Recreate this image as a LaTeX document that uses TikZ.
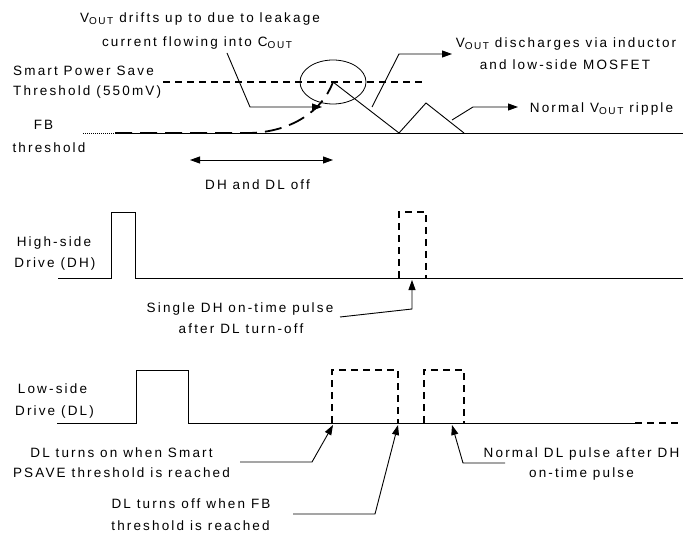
\documentclass[tikz,border=0pt]{standalone}
\usepackage{fontspec}
\setmainfont[LetterSpace=16]{Liberation Sans}
\usetikzlibrary{arrows.meta}
\newcommand\subtxt[1]{\raisebox{-0.25ex}{\fontsize{10}{10}\selectfont #1}}
\begin{document}
\begin{tikzpicture}[x=1pt,y=-1pt,
  lbl/.style={inner sep=0pt,font=\fontsize{13.5}{21}\selectfont},
  sig/.style={line width=0.9pt},
  dsig/.style={line width=1.7pt,dash pattern=on 7pt off 5pt},
  lsig/.style={line width=1.8pt,dash pattern=on 17pt off 8pt},
  conn/.style={line width=0.9pt,-{Triangle[length=10pt,width=7pt]}},
  dconn/.style={line width=0.9pt,{Triangle[length=10pt,width=7pt]}-{Triangle[length=10pt,width=7pt]}}]
\useasboundingbox (0,0) rectangle (685,537);
% ---- texts
\node[lbl,anchor=base] (t1a) at (200,23) {V\subtxt{OUT} drifts up to due to leakage};
\node[lbl,anchor=base] (t1b) at (197,47) {current flowing into C\subtxt{OUT}};
\node[lbl,anchor=base west] (t2a) at (13,76) {Smart Power Save};
\node[lbl,anchor=base west] (t2b) at (13,96) {Threshold (550mV)};
\node[lbl,anchor=base] (t3a) at (43.5,130) {FB};
\node[lbl,anchor=base] (t3b) at (49,153) {threshold};
\node[lbl,anchor=base] (t4a) at (566,48) {V\subtxt{OUT} discharges via inductor};
\node[lbl,anchor=base] (t4b) at (565,70) {and low-side MOSFET};
\node[lbl,anchor=base] (t5) at (601.5,113) {Normal V\subtxt{OUT} ripple};
\node[lbl,anchor=base] (t6) at (257.5,190) {DH and DL off};
\node[lbl,anchor=base] (t7a) at (54,247) {High-side};
\node[lbl,anchor=base] (t7b) at (55,268) {Drive (DH)};
\node[lbl,anchor=base] (t8a) at (240,312) {Single DH on-time pulse};
\node[lbl,anchor=base] (t8b) at (241,333) {after DL turn-off};
\node[lbl,anchor=base] (t9a) at (52.5,393) {Low-side};
\node[lbl,anchor=base] (t9b) at (54.5,415) {Drive (DL)};
\node[lbl,anchor=base] (t10a) at (121.5,457) {DL turns on when Smart};
\node[lbl,anchor=base] (t10b) at (121.5,477) {PSAVE threshold is reached};
\node[lbl,anchor=base] (t11a) at (191,508) {DL turns off when FB};
\node[lbl,anchor=base] (t11b) at (190.5,530) {threshold is reached};
\node[lbl,anchor=base] (t12a) at (581.5,457) {Normal DL pulse after DH};
\node[lbl,anchor=base] (t12b) at (581.5,477) {on-time pulse};
% ---- coordinates
\coordinate (peak) at (333,82);
\coordinate (c1s) at (227,53);   \coordinate (c1t) at (322,107);
\coordinate (c2s) at (372,107);  \coordinate (c2t) at (452,54);
\coordinate (c3s) at (452,120);  \coordinate (c3t) at (518,107);
\coordinate (dal) at (190,160);  \coordinate (dar) at (333,160);
\coordinate (c4s) at (340,317);  \coordinate (c4t) at (412,280);
\coordinate (c5s) at (240,462);  \coordinate (c5t) at (333,425);
\coordinate (c6s) at (293,514);  \coordinate (c6t) at (398,425);
\coordinate (c7s) at (505,463);  \coordinate (c7t) at (452,425);
% ---- top waveform
\draw[dsig] (163,82) -- (423,82);
\draw[line width=0.8pt] (peak) ellipse [x radius=33pt, y radius=22pt];
\draw[line width=0.6pt,dash pattern=on 1pt off 1pt] (83,133) -- (115,133);
\draw[line width=0.6pt] (115,133) -- (683,133);
\draw[lsig] (115,133) -- (250,133) .. controls (290,132) and (322,112) .. (peak);
\draw[sig] (peak) -- (399,133) -- (426,103) -- (464,133);
\draw[conn] (c1s) -- (250,107) -- (c1t);
\draw[conn] (c2s) -- (399,54) -- (c2t);
\draw[conn] (c3s) -- (473,107) -- (c3t);
\draw[dconn] (dal) -- (dar);
% ---- DH
\draw[sig] (58,278) -- (111,278) -- (111,212) -- (135,212) -- (135,278) -- (683,278);
\draw[dsig] (399,278) -- (399,212) -- (426,212) -- (426,278);
\draw[conn] (c4s) -- (412,309) -- (c4t);
% ---- DL
\draw[sig] (57,423) -- (136,423) -- (136,370) -- (188,370) -- (188,423) -- (635,423);
\draw[dsig] (635,423) -- (682,423);
\draw[dsig] (332,423) -- (332,370) -- (398,370) -- (398,423);
\draw[dsig] (424,423) -- (424,370) -- (464,370) -- (464,423);
\draw[conn] (c5s) -- (312,462) -- (c5t);
\draw[conn] (c6s) -- (375,514) -- (c6t);
\draw[conn] (c7s) -- (463,463) -- (c7t);
\end{tikzpicture}
\end{document}
